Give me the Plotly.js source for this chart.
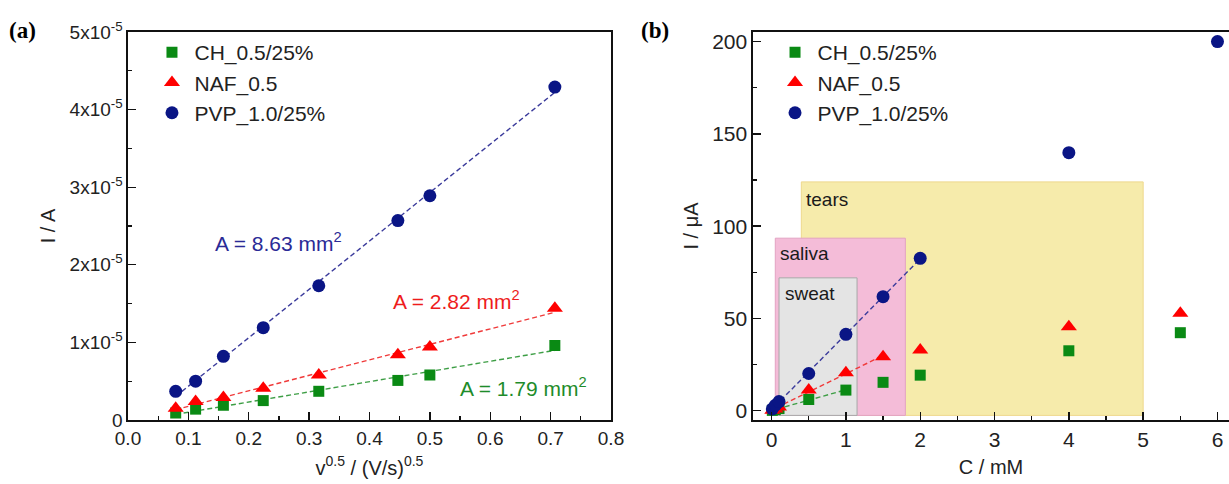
<!DOCTYPE html>
<html>
<head>
<meta charset="utf-8">
<script src="https://cdn.plot.ly/plotly-3.0.1.min.js"></script>
<style>
html,body{margin:0;padding:0;background:#fff;overflow:hidden;}
#chart{width:1229px;height:484px;}
</style>
</head>
<body>
<div id="chart"></div>
<script>
// ---------- Panel (a) data: I vs sqrt(scan rate) ----------
const sqrtRate = [0.079, 0.112, 0.158, 0.224, 0.316, 0.447, 0.5, 0.707];
const chA  = [0.9e-6, 1.4e-6, 1.9e-6, 2.5e-6, 3.7e-6, 5.1e-6, 5.8e-6, 9.6e-6];
const nafA = [1.5e-6, 2.4e-6, 2.9e-6, 4.1e-6, 5.8e-6, 8.4e-6, 9.4e-6, 14.4e-6];
const pvpA = [3.7e-6, 5.0e-6, 8.2e-6, 11.9e-6, 17.3e-6, 25.7e-6, 28.9e-6, 42.9e-6];
const areaLabels = ['A = 1.79 mm<sup>2</sup>', 'A = 2.82 mm<sup>2</sup>', 'A = 8.63 mm<sup>2</sup>'];
const yTickValsA = [0, 1e-5, 2e-5, 3e-5, 4e-5, 5e-5];
const yTickTextA = ['0', '1x10<sup>-5</sup>', '2x10<sup>-5</sup>', '3x10<sup>-5</sup>', '4x10<sup>-5</sup>', '5x10<sup>-5</sup>'];

// ---------- Panel (b) data: I vs concentration ----------
const concCH  = [0.01, 0.05, 0.1, 0.5, 1, 1.5, 2, 4, 5.5];
const chB     = [0.2, 0.6, 1.2, 6.1, 11.2, 15.4, 19.3, 32.5, 42.3];
const concNAF = [0.01, 0.05, 0.1, 0.5, 1, 1.5, 2, 4, 5.5];
const nafB    = [0.3, 1.0, 2.0, 11.2, 20.6, 29.3, 32.9, 45.5, 52.8];
const concPVP = [0.01, 0.05, 0.1, 0.5, 1, 1.5, 2, 4, 6];
const pvpB    = [1.0, 3.0, 5.0, 20.2, 41.4, 61.8, 82.6, 139.8, 200];
const fitLimitB = [1, 1.5, 2];          // linear-range upper limits (CH, NAF, PVP)

// physiological ranges shown as shaded boxes
const regionNames = ['tears', 'saliva', 'sweat'];
const regionX0    = [0.4, 0.05, 0.1];
const regionX1    = [5.0, 1.8, 1.15];
const regionTop   = [124, 93.5, 72];
const regionBottom = -2.5;

const seriesNames = ['CH_0.5/25%', 'NAF_0.5', 'PVP_1.0/25%'];

// ---------- helpers ----------
function linfit(xs, ys) {
  const n = xs.length;
  let sx = 0, sy = 0, sxx = 0, sxy = 0;
  for (let i = 0; i < n; i++) { sx += xs[i]; sy += ys[i]; sxx += xs[i]*xs[i]; sxy += xs[i]*ys[i]; }
  const m = (n*sxy - sx*sy) / (n*sxx - sx*sx);
  const b = (sy - m*sx) / n;
  return {m, b};
}
function fitLine(xs, ys, lim, xStart) {
  const px = [], py = [];
  xs.forEach((x, i) => { if (x <= lim + 1e-9) { px.push(x); py.push(ys[i]); } });
  const f = linfit(px, py);
  const x0 = (xStart === undefined) ? Math.min(...px) : xStart, x1 = Math.max(...px);
  return {x: [x0, x1], y: [f.m*x0 + f.b, f.m*x1 + f.b]};
}

const FONT = 'Liberation Sans, Arial, sans-serif';
const green = '#0a8a14', red = '#ff0000', navy = '#0a1585';
const greenL = '#3d9e45', redL = '#f03a3a', navyL = '#3c3c9c';
const symbols = ['square', 'triangle-up', 'circle'];
const sizes = [11, 14, 13];
const colors = [green, red, navy];
const lineColors = [greenL, redL, navyL];

const traces = [];
// Panel (a) fits + markers
const dataA = [chA, nafA, pvpA];
dataA.forEach((ys, k) => {
  const f = fitLine(sqrtRate, ys, 1);
  traces.push({x: f.x, y: f.y, xaxis: 'x', yaxis: 'y', mode: 'lines', showlegend: false, hoverinfo: 'skip',
    line: {color: lineColors[k], width: 1.4, dash: '5px,3px'}});
});
dataA.forEach((ys, k) => {
  traces.push({x: sqrtRate, y: ys, xaxis: 'x', yaxis: 'y', mode: 'markers', name: seriesNames[k], legend: 'legend',
    marker: {symbol: symbols[k], size: sizes[k], color: colors[k], line: {width: 0}}});
});
// Panel (b) fits + markers
const xsB = [concCH, concNAF, concPVP];
const dataB = [chB, nafB, pvpB];
dataB.forEach((ys, k) => {
  const f = fitLine(xsB[k], ys, fitLimitB[k], -0.03);
  traces.push({x: f.x, y: f.y, xaxis: 'x2', yaxis: 'y2', mode: 'lines', showlegend: false, hoverinfo: 'skip',
    line: {color: lineColors[k], width: 1.4, dash: '5px,3px'}});
});
dataB.forEach((ys, k) => {
  traces.push({x: xsB[k], y: ys, xaxis: 'x2', yaxis: 'y2', mode: 'markers', name: seriesNames[k], legend: 'legend2',
    marker: {symbol: symbols[k], size: sizes[k], color: colors[k], line: {width: 0}}});
});

// shaded regions
const regionFill = ['#f6ebab', '#f4bcd8', '#e4e4e4'];
const regionLine = ['#eed88e', '#e2a2c2', '#a8a8a8'];
const shapes = regionNames.map((nm, i) => ({
  type: 'rect', xref: 'x2', yref: 'y2', layer: 'below',
  x0: regionX0[i], x1: regionX1[i], y0: regionBottom, y1: regionTop[i],
  fillcolor: regionFill[i], line: {color: regionLine[i], width: 1}
}));

const annotations = [];
// area labels panel (a)
const areaPos = [[0.5466, 0.425e-5], [0.4356, 1.546e-5], [0.1408, 2.294e-5]];
areaLabels.forEach((t, k) => annotations.push({
  xref: 'x', yref: 'y', x: areaPos[k][0], y: areaPos[k][1], text: t, showarrow: false,
  xanchor: 'left', yanchor: 'middle', font: {family: FONT, size: 21, color: ['#1e8c2a', '#ee1c1c', '#2a2a96'][k]}
}));
// region labels panel (b)
const regionLabelPos = [[0.43, 114.7], [0.09, 85.4], [0.16, 63.8]];
regionNames.forEach((nm, i) => annotations.push({
  xref: 'x2', yref: 'y2', x: regionLabelPos[i][0], y: regionLabelPos[i][1], text: nm, showarrow: false,
  xanchor: 'left', yanchor: 'middle', font: {family: FONT, size: 19, color: '#1a1a1a'}
}));
// panel letters
annotations.push({xref: 'paper', yref: 'paper', x: -0.0955, y: 1.005, text: '<b>(a)</b>', showarrow: false,
  xanchor: 'center', yanchor: 'middle', font: {family: 'Liberation Serif, Times New Roman, serif', size: 23, color: '#000'}});
annotations.push({xref: 'paper', yref: 'paper', x: 0.4787, y: 1.005, text: '<b>(b)</b>', showarrow: false,
  xanchor: 'center', yanchor: 'middle', font: {family: 'Liberation Serif, Times New Roman, serif', size: 23, color: '#000'}});

const tickFontA = {family: FONT, size: 19, color: '#222'};
const tickFontB = {family: FONT, size: 21, color: '#222'};
const titleFont = {family: FONT, size: 20, color: '#222'};
const axisCommon = {
  showgrid: false, zeroline: false, showline: true, linecolor: '#111', linewidth: 1.6,
  ticks: 'inside', ticklen: 8, tickwidth: 1.4, tickcolor: '#111'
};
const minorCommon = {ticks: 'inside', ticklen: 4, tickwidth: 1.2, tickcolor: '#111'};

const layout = {
  width: 1229, height: 484,
  margin: {l: 128, r: 0, t: 32, b: 64},
  paper_bgcolor: '#fff', plot_bgcolor: 'rgba(0,0,0,0)',
  font: {family: FONT},
  xaxis: Object.assign({}, axisCommon, {
    domain: [0, 0.43869], range: [0, 0.8], mirror: true, dtick: 0.1, tick0: 0, tickformat: '.1f', tickfont: tickFontA,
    minor: Object.assign({dtick: 0.05, tick0: 0}, minorCommon),
    ticklabelstandoff: 1,
    title: {text: 'v<sup>0.5</sup> / (V/s)<sup>0.5</sup>', font: titleFont, standoff: 12}
  }),
  yaxis: Object.assign({}, axisCommon, {
    domain: [0, 1], range: [0, 5e-5], mirror: true, tickmode: 'array', tickvals: yTickValsA, ticktext: yTickTextA,
    tickfont: tickFontA,
    minor: Object.assign({tickmode: 'linear', dtick: 0.5e-5, tick0: 0}, minorCommon),
    title: {text: 'I / A', font: titleFont, standoff: 8}
  }),
  xaxis2: Object.assign({}, axisCommon, {
    domain: [0.56767, 1], range: [-0.25, 6.155], mirror: true, dtick: 1, tick0: 0, anchor: 'y2', tickfont: tickFontB,
    minor: Object.assign({dtick: 0.5, tick0: 0}, minorCommon),
    ticklabelstandoff: 0,
    title: {text: 'C / mM', font: titleFont, standoff: 10}
  }),
  yaxis2: Object.assign({}, axisCommon, {
    domain: [0, 1], range: [-5, 205.2], mirror: false, dtick: 50, tick0: 0, anchor: 'x2', tickfont: tickFontB,
    minor: Object.assign({dtick: 25, tick0: 0}, minorCommon),
    title: {text: 'I / μA', font: titleFont, standoff: 8}
  }),
  legend: {x: 0.0195, y: 1.0, xanchor: 'left', yanchor: 'top', bgcolor: 'rgba(0,0,0,0)', itemwidth: 35,
    font: {family: FONT, size: 21, color: '#222'}, tracegroupgap: 0},
  legend2: {x: 0.5854, y: 1.0, xanchor: 'left', yanchor: 'top', bgcolor: 'rgba(0,0,0,0)', itemwidth: 35,
    font: {family: FONT, size: 21, color: '#222'}, tracegroupgap: 0},
  shapes: shapes,
  annotations: annotations,
  showlegend: true
};

Plotly.newPlot('chart', traces, layout, {displayModeBar: false, staticPlot: true});
</script>
</body>
</html>
